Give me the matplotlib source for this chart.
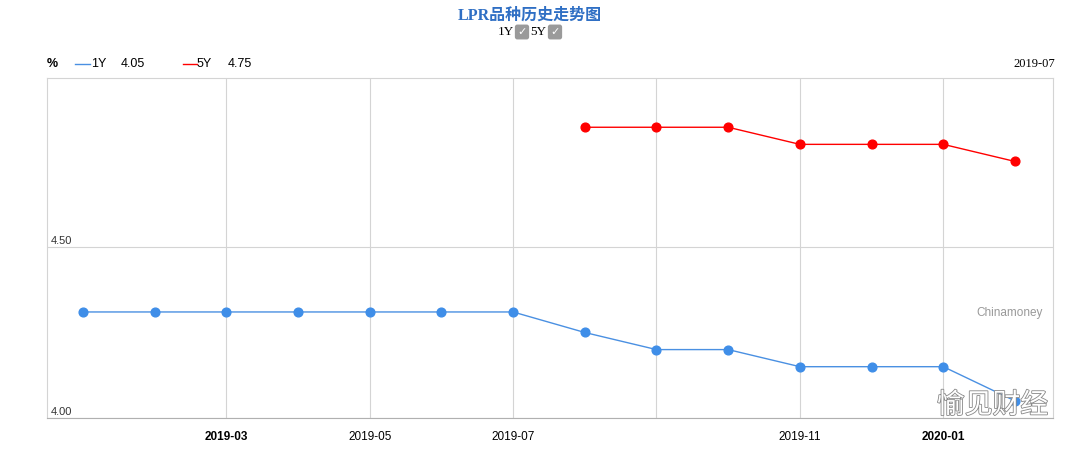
import numpy as np
import matplotlib.pyplot as plt
import matplotlib.patheffects as pe

# 数据：LPR 月度报价 (%)
months = ['2019-01', '2019-02', '2019-03', '2019-04', '2019-05', '2019-06', '2019-07',
          '2019-08', '2019-09', '2019-10', '2019-11', '2019-12', '2020-01', '2020-02']
lpr_1y = [4.31, 4.31, 4.31, 4.31, 4.31, 4.31, 4.31, 4.25, 4.20, 4.20, 4.15, 4.15, 4.15, 4.05]
lpr_5y = [np.nan] * 7 + [4.85, 4.85, 4.85, 4.80, 4.80, 4.80, 4.75]
tick_idx = [2, 4, 6, 8, 10, 12]
tick_labels = ['2019-03', '2019-05', '2019-07', '', '2019-11', '2020-01']
bold_ticks = ['2019-03', '2020-01']
y_ticks = [4.00, 4.50]

blue = '#4a90e2'
red = '#ff0000'
grid_c = '#d4d4d4'

fig = plt.figure(figsize=(10.8, 4.53), dpi=100)
ax = fig.add_axes([47 / 1080, 35 / 453, 1006 / 1080, 340 / 453])

x = np.arange(len(months))
ax.plot(x, lpr_1y, '-', color=blue, lw=1.0, marker='o', ms=6.3,
        mfc='#3f8ee8', mec='#3f8ee8', zorder=3)
ax.plot(x, lpr_5y, '-', color=red, lw=1.0, marker='o', ms=6.3,
        mfc=red, mec=red, zorder=3)

ax.set_xlim(-0.5, 13.53)
ax.set_ylim(4.0, 4.994)

ax.set_xticks(tick_idx)
ax.set_xticklabels(tick_labels, fontsize=8.5, family='Liberation Sans')
for lbl in ax.get_xticklabels():
    if lbl.get_text() in bold_ticks:
        lbl.set_fontweight('bold')
ax.tick_params(axis='x', length=0, pad=9)
ax.set_yticks(y_ticks)
ax.set_yticklabels([])
ax.tick_params(axis='y', length=0)
ax.grid(True, color=grid_c, lw=0.8)
for s in ['top', 'left', 'right']:
    ax.spines[s].set_color(grid_c)
    ax.spines[s].set_linewidth(0.8)
ax.spines['bottom'].set_color('#b0b0b0')

for v in y_ticks:
    ax.text(0.004, v + 0.004, f'{v:.2f}', transform=ax.get_yaxis_transform(),
            fontsize=8, family='Liberation Sans', color='#333333', va='bottom')

ax.text(0.99, 0.31, 'Chinamoney', transform=ax.transAxes, ha='right', va='center',
        fontsize=8.5, family='Liberation Sans', color='#999999')

# 标题与图例
fig.text(530 / 1080, 1 - 16 / 453, 'LPR品种历史走势图', ha='center', va='center',
         fontsize=11.5, fontweight='bold', color='#2f6fc4',
         family=['Liberation Serif', 'Noto Sans CJK SC'])
fig.text(506 / 1080, 1 - 32 / 453, '1Y', ha='center', va='center', fontsize=9.5,
         family='Liberation Serif')
fig.text(538 / 1080, 1 - 32 / 453, '5Y', ha='center', va='center', fontsize=9.5,
         family='Liberation Serif')
for cx in [522, 555]:
    fig.text(cx / 1080, 1 - 32 / 453, '✓', ha='center', va='center', fontsize=8,
             color='white', family='DejaVu Sans',
             bbox=dict(boxstyle='round,pad=0.22', fc='#9a9a9a', ec='none'))

ly = 1 - 64 / 453
fs = 9
fig.text(47 / 1080, ly, '%', ha='left', va='center', fontsize=fs, fontweight='bold',
         family='Liberation Sans')
fig.add_artist(plt.Line2D([75 / 1080, 90 / 1080], [ly, ly], color=blue, lw=1.0))
fig.text(91 / 1080, ly, '1Y', ha='left', va='center', fontsize=fs, family='Liberation Sans')
fig.text(121 / 1080, ly, f'{lpr_1y[-1]:.2f}', ha='left', va='center', fontsize=fs,
         family='Liberation Sans')
fig.add_artist(plt.Line2D([183 / 1080, 197 / 1080], [ly, ly], color=red, lw=1.0))
fig.text(197 / 1080, ly, '5Y', ha='left', va='center', fontsize=fs, family='Liberation Sans')
fig.text(228 / 1080, ly, f'{lpr_5y[-1]:.2f}', ha='left', va='center', fontsize=fs,
         family='Liberation Sans')
fig.text(1055 / 1080, ly, months[6], ha='right', va='center', fontsize=9,
         family='Liberation Serif')

# 水印
fig.text(937 / 1080, 1 - 405 / 453, '愉见财经', ha='left', va='center', fontsize=20,
         color='white', family='Noto Sans CJK SC',
         path_effects=[pe.withStroke(linewidth=1.2, foreground='#888888')])

fig.savefig('out.png', dpi=100, facecolor='white')
